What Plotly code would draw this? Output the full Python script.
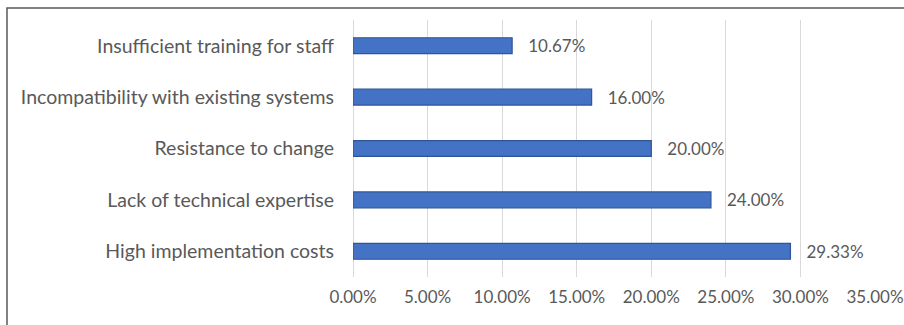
import plotly.graph_objects as go

# Barriers to adoption, share of respondents (%)
categories = [
    "High implementation costs",
    "Lack of technical expertise",
    "Resistance to change",
    "Incompatibility with existing systems",
    "Insufficient training for staff",
]
shares = [29.33, 24.00, 20.00, 16.00, 10.67]
tick_values = [0, 5, 10, 15, 20, 25, 30, 35]
tick_labels = [f"{v:.2f}%" for v in tick_values]

W, H = 904, 325
L, R, T, B = 353, 29, 20, 48
pw, ph = W - L - R, H - T - B

def px_x(px):
    return (px - L) / pw

def px_y(py):
    return 1 - (py - T) / ph

font_family = "Lato, Carlito, Calibri, sans-serif"
text_color = "#595959"

fig = go.Figure(
    go.Bar(
        x=shares,
        y=categories,
        orientation="h",
        width=0.31,
        marker=dict(color="#4472C4", line=dict(color="#2F5597", width=1.2)),
        text=shares,
        texttemplate="   %{x:.2f}%",
        textposition="outside",
        constraintext="none",
        textfont=dict(family=font_family, size=17, color=text_color),
        cliponaxis=False,
    )
)

fig.update_layout(
    width=W,
    height=H,
    margin=dict(l=L, r=R, t=T, b=B),
    paper_bgcolor="white",
    plot_bgcolor="white",
    showlegend=False,
    bargap=0.5,
    xaxis=dict(
        range=[0, 35],
        tickvals=tick_values,
        ticktext=tick_labels,
        showgrid=True,
        gridcolor="#d9d9d9",
        gridwidth=1,
        zeroline=True,
        zerolinecolor="#d9d9d9",
        zerolinewidth=1,
        showline=False,
        tickfont=dict(family=font_family, size=17, color=text_color),
        ticklabelstandoff=8,
        ticklabeloverflow="allow",
        automargin=False,
        fixedrange=True,
    ),
    yaxis=dict(
        categoryorder="array",
        categoryarray=categories,
        showgrid=False,
        showline=False,
        zeroline=False,
        tickfont=dict(family=font_family, size=19.5, color=text_color),
        ticklabelstandoff=18,
        automargin=False,
        fixedrange=True,
    ),
    shapes=[
        dict(
            type="path",
            xref="paper",
            yref="paper",
            path=(
                f"M {px_x(7)} {px_y(H + 2)} L {px_x(7)} {px_y(8)} "
                f"L {px_x(W + 2)} {px_y(8)}"
            ),
            line=dict(color="#595959", width=1.5),
            layer="above",
        )
    ],
)

fig.write_html("out.html")
